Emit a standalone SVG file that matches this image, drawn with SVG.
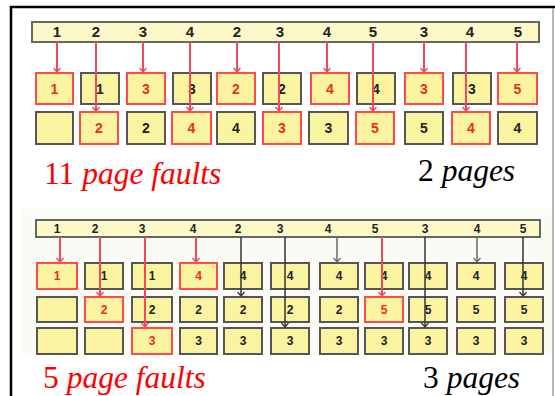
<svg xmlns="http://www.w3.org/2000/svg" width="555" height="396" viewBox="0 0 555 396">
<style>
.bar{fill:#fdf8c8;stroke:#666;stroke-width:2}
.bx{fill:#faf3a0;stroke:#555;stroke-width:2}
.bxr{fill:#faf3a0;stroke:#ff4a4a;stroke-width:2}
.n1{font-family:"Liberation Sans",Arial,sans-serif;font-weight:bold;font-size:14px;text-anchor:middle;fill:#222}
.n2{font-family:"Liberation Sans",Arial,sans-serif;font-weight:bold;font-size:12px;text-anchor:middle;fill:#222}
.r{fill:#e8301c}
.big{font-family:"Liberation Serif","Times New Roman",serif;font-size:31.5px}
.ar{stroke:#ee4a5e;stroke-width:2;fill:none}
.ak{stroke:#333;stroke-width:1.5;fill:none}
.ag{stroke:#666;stroke-width:1.5;fill:none}
</style>
<defs>
<marker id="mr" markerWidth="8" markerHeight="6" refX="4" refY="5" markerUnits="userSpaceOnUse" viewBox="0 0 8 6"><path d="M0.5,1 L4,5 L7.5,1" fill="none" stroke="#ee4a5e" stroke-width="1.5"/></marker>
<marker id="mk" markerWidth="8" markerHeight="6" refX="4" refY="5" markerUnits="userSpaceOnUse" viewBox="0 0 8 6"><path d="M0.5,1 L4,5 L7.5,1" fill="none" stroke="#333" stroke-width="1.2"/></marker>
<marker id="mg" markerWidth="8" markerHeight="6" refX="4" refY="5" markerUnits="userSpaceOnUse" viewBox="0 0 8 6"><path d="M0.5,1 L4,5 L7.5,1" fill="none" stroke="#666" stroke-width="1.2"/></marker>
</defs>
<rect width="555" height="396" fill="#fff"/>
<path d="M11,396 V7 H555" fill="none" stroke="#000" stroke-width="2.5"/>
<line x1="553" y1="8" x2="553" y2="396" stroke="#888" stroke-width="1.2"/>
<rect x="22" y="209" width="530" height="146" fill="#fbfbf6"/>

<!-- Section 1 -->
<g id="bar1">
<rect class="bar" x="32" y="22" width="507" height="20"/>
<g class="n1" style="font-size:15px">
<text x="57" y="37">1</text><text x="96" y="37">2</text><text x="143" y="37">3</text><text x="190" y="37">4</text><text x="237" y="37">2</text><text x="280" y="37">3</text><text x="327" y="37">4</text><text x="373" y="37">5</text><text x="424" y="37">3</text><text x="470" y="37">4</text><text x="518" y="37">5</text>
</g>
</g>
<g id="s1r1c1"><rect class="bxr" x="36" y="73" width="37" height="31"/><text class="n1 r" x="54.5" y="94">1</text></g>
<g id="s1r1c2"><rect class="bx" x="81" y="73" width="38" height="31"/><text class="n1" x="100" y="94">1</text></g>
<g id="s1r1c3"><rect class="bxr" x="127" y="73" width="38" height="31"/><text class="n1 r" x="146" y="94">3</text></g>
<g id="s1r1c4"><rect class="bx" x="173" y="73" width="38" height="31"/><text class="n1" x="192" y="94">3</text></g>
<g id="s1r1c5"><rect class="bxr" x="217" y="73" width="38" height="31"/><text class="n1 r" x="236" y="94">2</text></g>
<g id="s1r1c6"><rect class="bx" x="263" y="73" width="38" height="31"/><text class="n1" x="282" y="94">2</text></g>
<g id="s1r1c7"><rect class="bxr" x="311" y="73" width="38" height="31"/><text class="n1 r" x="330" y="94">4</text></g>
<g id="s1r1c8"><rect class="bx" x="357" y="73" width="38" height="31"/><text class="n1" x="376" y="94">4</text></g>
<g id="s1r1c9"><rect class="bxr" x="405" y="73" width="38" height="31"/><text class="n1 r" x="424" y="94">3</text></g>
<g id="s1r1c10"><rect class="bx" x="453" y="73" width="38" height="31"/><text class="n1" x="472" y="94">3</text></g>
<g id="s1r1c11"><rect class="bxr" x="498" y="73" width="39" height="31"/><text class="n1 r" x="517.5" y="94">5</text></g>

<g id="s1r2c1"><rect class="bx" x="36" y="112" width="37" height="32"/></g>
<g id="s1r2c2"><rect class="bxr" x="80" y="112" width="38" height="32"/><text class="n1 r" x="99" y="133">2</text></g>
<g id="s1r2c3"><rect class="bx" x="127" y="112" width="38" height="32"/><text class="n1" x="146" y="133">2</text></g>
<g id="s1r2c4"><rect class="bxr" x="172" y="112" width="39" height="32"/><text class="n1 r" x="191.5" y="133">4</text></g>
<g id="s1r2c5"><rect class="bx" x="217" y="112" width="38" height="32"/><text class="n1" x="236" y="133">4</text></g>
<g id="s1r2c6"><rect class="bxr" x="263" y="112" width="38" height="32"/><text class="n1 r" x="282" y="133">3</text></g>
<g id="s1r2c7"><rect class="bx" x="309" y="112" width="39" height="32"/><text class="n1" x="328.5" y="133">3</text></g>
<g id="s1r2c8"><rect class="bxr" x="356" y="112" width="38" height="32"/><text class="n1 r" x="375" y="133">5</text></g>
<g id="s1r2c9"><rect class="bx" x="405" y="112" width="38" height="32"/><text class="n1" x="424" y="133">5</text></g>
<g id="s1r2c10"><rect class="bxr" x="452" y="112" width="38" height="32"/><text class="n1 r" x="471" y="133">4</text></g>
<g id="s1r2c11"><rect class="bx" x="498" y="112" width="39" height="32"/><text class="n1" x="517.5" y="133">4</text></g>

<g id="connectors1">
<line class="ar" x1="57" y1="42" x2="57" y2="72" marker-end="url(#mr)"/>
<line class="ar" x1="96" y1="42" x2="96" y2="111" marker-end="url(#mr)"/>
<line class="ar" x1="143" y1="42" x2="143" y2="72" marker-end="url(#mr)"/>
<line class="ar" x1="190" y1="42" x2="190" y2="111" marker-end="url(#mr)"/>
<line class="ar" x1="237" y1="42" x2="237" y2="72" marker-end="url(#mr)"/>
<line class="ar" x1="279" y1="42" x2="279" y2="111" marker-end="url(#mr)"/>
<line class="ar" x1="327" y1="42" x2="327" y2="72" marker-end="url(#mr)"/>
<line class="ar" x1="373" y1="42" x2="373" y2="111" marker-end="url(#mr)"/>
<line class="ar" x1="424" y1="42" x2="424" y2="72" marker-end="url(#mr)"/>
<line class="ar" x1="466" y1="42" x2="466" y2="111" marker-end="url(#mr)"/>
<line class="ar" x1="517" y1="42" x2="517" y2="72" marker-end="url(#mr)"/>
</g>

<text class="big" x="44" y="184" fill="#ff0000">11 <tspan font-style="italic">page faults</tspan></text>
<text class="big" x="418" y="181" fill="#000">2 <tspan font-style="italic">pages</tspan></text>

<!-- Section 2 -->
<g id="bar2">
<rect class="bar" x="36" y="220" width="504" height="17"/>
<g class="n2">
<text x="57" y="233">1</text><text x="95" y="233">2</text><text x="142" y="233">3</text><text x="193" y="233">4</text><text x="238" y="233">2</text><text x="280" y="233">3</text><text x="328" y="233">4</text><text x="375" y="233">5</text><text x="425" y="233">3</text><text x="477" y="233">4</text><text x="523" y="233">5</text>
</g>
</g>
<g id="s2r1c1"><rect class="bxr" x="37" y="263" width="40" height="26"/><text class="n2 r" x="57" y="280">1</text></g>
<g id="s2r1c2"><rect class="bx" x="85" y="263" width="38" height="26"/><text class="n2" x="104" y="280">1</text></g>
<g id="s2r1c3"><rect class="bx" x="132" y="263" width="40" height="26"/><text class="n2" x="152" y="280">1</text></g>
<g id="s2r1c4"><rect class="bxr" x="180" y="263" width="37" height="26"/><text class="n2 r" x="198.5" y="280">4</text></g>
<g id="s2r1c5"><rect class="bx" x="224" y="263" width="38" height="26"/><text class="n2" x="243" y="280">4</text></g>
<g id="s2r1c6"><rect class="bx" x="271" y="263" width="38" height="26"/><text class="n2" x="290" y="280">4</text></g>
<g id="s2r1c7"><rect class="bx" x="320" y="263" width="38" height="26"/><text class="n2" x="339" y="280">4</text></g>
<g id="s2r1c8"><rect class="bx" x="365" y="263" width="38" height="26"/><text class="n2" x="384" y="280">4</text></g>
<g id="s2r1c9"><rect class="bx" x="409" y="263" width="38" height="26"/><text class="n2" x="428" y="280">4</text></g>
<g id="s2r1c10"><rect class="bx" x="457" y="263" width="38" height="26"/><text class="n2" x="476" y="280">4</text></g>
<g id="s2r1c11"><rect class="bx" x="505" y="263" width="38" height="26"/><text class="n2" x="524" y="280">4</text></g>

<g id="s2r2c1"><rect class="bx" x="37" y="297" width="40" height="25"/></g>
<g id="s2r2c2"><rect class="bxr" x="85" y="297" width="38" height="25"/><text class="n2 r" x="104" y="314">2</text></g>
<g id="s2r2c3"><rect class="bx" x="132" y="297" width="40" height="25"/><text class="n2" x="152" y="314">2</text></g>
<g id="s2r2c4"><rect class="bx" x="180" y="297" width="37" height="25"/><text class="n2" x="198.5" y="314">2</text></g>
<g id="s2r2c5"><rect class="bx" x="224" y="297" width="38" height="25"/><text class="n2" x="243" y="314">2</text></g>
<g id="s2r2c6"><rect class="bx" x="271" y="297" width="38" height="25"/><text class="n2" x="290" y="314">2</text></g>
<g id="s2r2c7"><rect class="bx" x="320" y="297" width="38" height="25"/><text class="n2" x="339" y="314">2</text></g>
<g id="s2r2c8"><rect class="bxr" x="365" y="297" width="38" height="25"/><text class="n2 r" x="384" y="314">5</text></g>
<g id="s2r2c9"><rect class="bx" x="409" y="297" width="38" height="25"/><text class="n2" x="428" y="314">5</text></g>
<g id="s2r2c10"><rect class="bx" x="457" y="297" width="38" height="25"/><text class="n2" x="476" y="314">5</text></g>
<g id="s2r2c11"><rect class="bx" x="505" y="297" width="38" height="25"/><text class="n2" x="524" y="314">5</text></g>

<g id="s2r3c1"><rect class="bx" x="37" y="328" width="40" height="26"/></g>
<g id="s2r3c2"><rect class="bx" x="85" y="328" width="38" height="26"/></g>
<g id="s2r3c3"><rect class="bxr" x="132" y="328" width="40" height="26"/><text class="n2 r" x="152" y="345">3</text></g>
<g id="s2r3c4"><rect class="bx" x="180" y="328" width="37" height="26"/><text class="n2" x="198.5" y="345">3</text></g>
<g id="s2r3c5"><rect class="bx" x="224" y="328" width="38" height="26"/><text class="n2" x="243" y="345">3</text></g>
<g id="s2r3c6"><rect class="bx" x="271" y="328" width="38" height="26"/><text class="n2" x="290" y="345">3</text></g>
<g id="s2r3c7"><rect class="bx" x="320" y="328" width="38" height="26"/><text class="n2" x="339" y="345">3</text></g>
<g id="s2r3c8"><rect class="bx" x="365" y="328" width="38" height="26"/><text class="n2" x="384" y="345">3</text></g>
<g id="s2r3c9"><rect class="bx" x="409" y="328" width="38" height="26"/><text class="n2" x="428" y="345">3</text></g>
<g id="s2r3c10"><rect class="bx" x="457" y="328" width="38" height="26"/><text class="n2" x="476" y="345">3</text></g>
<g id="s2r3c11"><rect class="bx" x="505" y="328" width="38" height="26"/><text class="n2" x="524" y="345">3</text></g>

<g id="connectors2">
<line class="ar" x1="60" y1="237" x2="60" y2="262" marker-end="url(#mr)"/>
<line class="ar" x1="100" y1="237" x2="100" y2="296" marker-end="url(#mr)"/>
<line class="ar" x1="145" y1="237" x2="145" y2="327" marker-end="url(#mr)"/>
<line class="ar" x1="196" y1="237" x2="196" y2="262" marker-end="url(#mr)"/>
<line class="ak" x1="241" y1="237" x2="241" y2="296" marker-end="url(#mk)"/>
<line class="ak" x1="285" y1="237" x2="285" y2="327" marker-end="url(#mk)"/>
<line class="ag" x1="337" y1="237" x2="337" y2="262" marker-end="url(#mg)"/>
<line class="ar" x1="382" y1="237" x2="382" y2="296" marker-end="url(#mr)"/>
<line class="ak" x1="425" y1="237" x2="425" y2="327" marker-end="url(#mk)"/>
<line class="ag" x1="477" y1="237" x2="477" y2="262" marker-end="url(#mg)"/>
<line class="ak" x1="523" y1="237" x2="523" y2="296" marker-end="url(#mk)"/>
</g>

<text class="big" x="43" y="388" fill="#ff0000">5 <tspan font-style="italic">page faults</tspan></text>
<text class="big" x="423" y="388" fill="#000">3 <tspan font-style="italic">pages</tspan></text>
</svg>
